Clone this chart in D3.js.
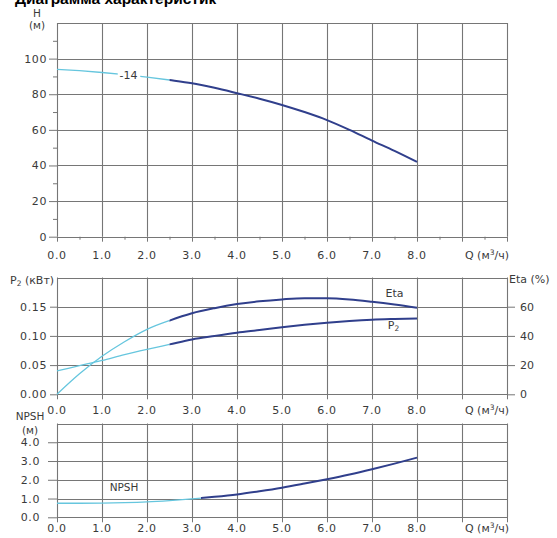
<!DOCTYPE html>
<html><head><meta charset="utf-8">
<script src="https://cdn.jsdelivr.net/npm/d3@7"></script>
<style>
html,body{margin:0;padding:0;background:#fff;}
text{font-family:"DejaVu Sans",sans-serif;fill:#3a3a3a;}
</style></head>
<body>
<svg id="c" width="557" height="538"></svg>
<script>
// ---- data ----
const title = "Диаграмма характеристик";
const q = [0,0.5,1,1.5,2,2.5,3,3.5,4,4.5,5,5.5,6,6.5,7,7.5,8];
const headH = [94,93.2,92.2,91,89.6,88,86.2,83.6,80.6,77.5,74,70,65.5,60,54,48.2,42];
const etaPct = [0,14,26,36,44.5,50.5,55.5,59,61.8,63.7,65,65.8,65.8,65,63.4,61.5,59.3];
const powerP2 = [0.040,0.049,0.058,0.068,0.077,0.0855,0.094,0.100,0.1055,0.110,0.1147,0.119,0.1226,0.1255,0.1277,0.129,0.130];
const npsh = [0.75,0.75,0.76,0.78,0.82,0.89,0.98,1.09,1.22,1.39,1.58,1.8,2.03,2.28,2.56,2.86,3.18];
const xTicks = [0,1,2,3,4,5,6,7,8];
const hTicks = [0,20,40,60,80,100];
const p2Ticks = [0,0.05,0.10,0.15];
const etaTicks = [0,20,40,60];
const npshTicks = [0,1,2,3,4];
const splitMain = 2.5, splitNpsh = 3.2;

const svg = d3.select("#c");
const LIGHT = "#66c6de", DARK = "#303f8c", GRID = "#767676";
const x = d3.scaleLinear().domain([0,10]).range([57,507]);

svg.append("text").attr("x",15).attr("y",4).style("font-family","'Liberation Sans',Arial,sans-serif")
  .style("font-weight","bold").style("font-size","15.5px").style("fill","#000").text(title);

const gridSpecs = [];
let clipId = 0;
function panel(ys, yStep, xLabelY, bottomTickLen, minorX){
  const g = svg.append("g");
  const r = ys.range();
  const yb = +r[0], yt = +r[1];
  gridSpecs.push({ys, yStep, yb, yt});
  const ax = d3.axisBottom(x).tickValues(d3.range(0,11)).tickSize(bottomTickLen).tickFormat("");
  const axg = g.append("g").attr("transform",`translate(0,${yb})`).call(ax);
  axg.select(".domain").remove();
  axg.selectAll("line").attr("stroke",GRID);
  if(minorX){
    const mx = d3.axisBottom(x).tickValues(d3.range(0.5,10,1)).tickSize(3).tickFormat("");
    const mg = g.append("g").attr("transform",`translate(0,${yb})`).call(mx);
    mg.select(".domain").remove(); mg.selectAll("line").attr("stroke",GRID);
  }
  xTicks.forEach(v=>g.append("text").attr("x",x(v)).attr("y",xLabelY).attr("text-anchor","middle")
    .style("font-size","11px").style("letter-spacing","0.6px").text(v.toFixed(1)));
  const ql = g.append("text").attr("x",x(10)+2).attr("y",xLabelY).attr("text-anchor","end").style("font-size","11px");
  ql.append("tspan").text("Q (м");
  ql.append("tspan").attr("dy",-4).style("font-size","7.5px").text("3");
  ql.append("tspan").attr("dy",4).text("/ч)");
  return g;
}
function leftAxis(g, ys, vals, fmt, len, labelX){
  const a = d3.axisLeft(ys).tickValues(vals).tickSize(len).tickFormat("");
  const ag = g.append("g").attr("transform",`translate(${x(0)},0)`).call(a);
  ag.select(".domain").remove(); ag.selectAll("line").attr("stroke",GRID);
  vals.forEach(v=>g.append("text").attr("x",labelX).attr("y",ys(v)+4).attr("text-anchor","end")
    .style("font-size","11px").style("letter-spacing","0.6px").text(fmt(v)));
}
function curve(g, ys, vals, split){
  const pts = q.map((d,i)=>[d,vals[i]]);
  const line = d3.line().x(d=>x(d[0])).y(d=>ys(d[1])).curve(d3.curveMonotoneX);
  const lightPts = pts.filter(p=>p[0]<=Math.ceil(split*2)/2);
  const darkPts = pts.filter(p=>p[0]>=Math.floor(split*2)/2);
  const id1 = "cl"+(clipId++), id2 = "cl"+(clipId++);
  const defs = g.append("defs");
  defs.append("clipPath").attr("id",id1).append("rect").attr("x",0).attr("y",0).attr("width",x(split)).attr("height",538);
  defs.append("clipPath").attr("id",id2).append("rect").attr("x",x(split)).attr("y",0).attr("width",557).attr("height",538);
  g.append("path").datum(pts).attr("d",line).attr("fill","none").attr("stroke",LIGHT).attr("stroke-width",1.3).attr("clip-path",`url(#${id1})`);
  g.append("path").datum(pts).attr("d",line).attr("fill","none").attr("stroke",DARK).attr("stroke-width",2).attr("clip-path",`url(#${id2})`);
}

// ---- top: H ----
const yH = d3.scaleLinear().domain([0,120]).range([236.7,23]);
const gT = panel(yH, 20, 259, 5, true);
leftAxis(gT, yH, hTicks, d3.format("d"), 8, 47);
{ const a = d3.axisLeft(yH).tickValues(d3.range(10,120,20)).tickSize(4).tickFormat("");
  const ag = gT.append("g").attr("transform",`translate(${x(0)},0)`).call(a);
  ag.select(".domain").remove(); ag.selectAll("line").attr("stroke",GRID); }
gT.append("text").attr("x",37).attr("y",17).attr("text-anchor","middle").style("font-size","10.5px").text("H");
gT.append("text").attr("x",37).attr("y",29).attr("text-anchor","middle").style("font-size","10.5px").text("(м)");

// ---- middle: P2 / Eta ----
const yP = d3.scaleLinear().domain([0,0.2]).range([394.3,277.5]);
const yE = d3.scaleLinear().domain([0,80]).range([394.3,277.5]);
const gM = panel(yP, 0.05, 414, 5, false);
leftAxis(gM, yP, p2Ticks, d3.format(".2f"), 7, 47);
{ const a = d3.axisRight(yE).tickValues(etaTicks).tickSize(8).tickFormat("");
  const ag = gM.append("g").attr("transform",`translate(${x(10)},0)`).call(a);
  ag.select(".domain").remove(); ag.selectAll("line").attr("stroke",GRID);
  etaTicks.forEach(v=>gM.append("text").attr("x",x(10)+13).attr("y",yE(v)+4).style("font-size","11px").text(v)); }
{ const t = gM.append("text").attr("x",10).attr("y",284).style("font-size","11px");
  t.append("tspan").text("P"); t.append("tspan").attr("dy",2).style("font-size","7.5px").text("2");
  t.append("tspan").attr("dy",-2).text(" (кВт)"); }
gM.append("text").attr("x",509).attr("y",283).style("font-size","11px").text("Eta (%)");

// ---- bottom: NPSH ----
const yN = d3.scaleLinear().domain([0,5]).range([517.3,423.5]);
const gB = panel(yN, 1, 532, 5, false);
leftAxis(gB, yN, npshTicks, d3.format(".1f"), 9, 40);
gB.append("text").attr("x",30).attr("y",420).attr("text-anchor","middle").style("font-size","10.5px").text("NPSH");
gB.append("text").attr("x",30).attr("y",434).attr("text-anchor","middle").style("font-size","10.5px").text("(м)");

// ---- grid drawn late in the document (after axes and text) ----
const gridLayer = svg.append("g").attr("class","gridlayer");
gridSpecs.forEach(s=>{
  const dom = s.ys.domain();
  const nH = Math.round((dom[1]-dom[0])/s.yStep);
  d3.range(0,11).forEach(d=>{
    const xx = Math.round(x(d))+0.5;
    gridLayer.append("line").attr("x1",xx).attr("x2",xx).attr("y1",s.yt).attr("y2",s.yb)
      .attr("stroke",GRID).attr("stroke-width",1.1);
  });
  d3.range(0,nH+1).forEach(i=>{
    const yy = Math.round(s.ys(dom[0]+i*s.yStep))+0.5;
    gridLayer.append("line").attr("x1",x(0)).attr("x2",x(10)+1).attr("y1",yy).attr("y2",yy)
      .attr("stroke",GRID).attr("stroke-width",1.1);
  });
});

// ---- curves and curve labels on top of the grid ----
const cT = svg.append("g"), cM = svg.append("g"), cB = svg.append("g");
curve(cT, yH, headH, splitMain);
cT.append("rect").attr("x",x(1.35)).attr("y",yH(91)-5).attr("width",x(1.85)-x(1.35)).attr("height",10).attr("fill","#fff");
cT.append("text").attr("x",x(1.39)).attr("y",yH(91)+4).style("font-size","11px").text("-14");
curve(cM, yE, etaPct, splitMain);
curve(cM, yP, powerP2, splitMain);
cM.append("text").attr("x",x(7.3)).attr("y",yE(66)-1).style("font-size","11px").text("Eta");
{ const t = cM.append("text").attr("x",x(7.35)).attr("y",yP(0.111)).style("font-size","11px");
  t.append("tspan").text("P"); t.append("tspan").attr("dy",2).style("font-size","7.5px").text("2"); }
curve(cB, yN, npsh, splitNpsh);
cB.append("text").attr("x",x(1.17)).attr("y",yN(1.4)).style("font-size","10.5px").text("NPSH");
</script>
</body></html>
